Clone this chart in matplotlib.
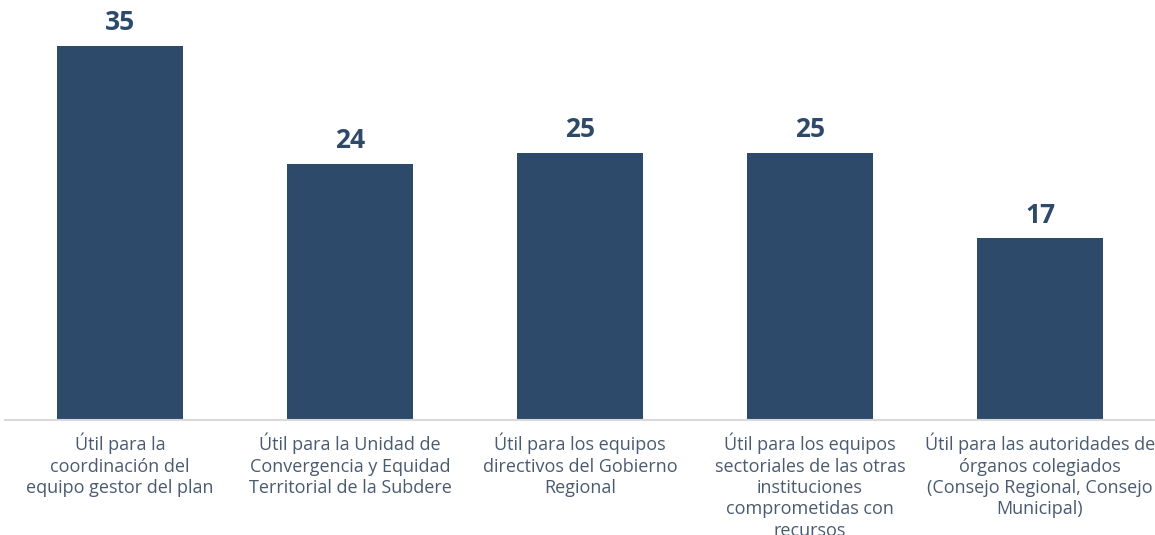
import matplotlib
matplotlib.use("Agg")
import matplotlib.pyplot as plt

categorias = [
    "Útil para la\ncoordinación del\nequipo gestor del plan",
    "Útil para la Unidad de\nConvergencia y Equidad\nTerritorial de la Subdere",
    "Útil para los equipos\ndirectivos del Gobierno\nRegional",
    "Útil para los equipos\nsectoriales de las otras\ninstituciones\ncomprometidas con\nrecursos",
    "Útil para las autoridades de\nórganos colegiados\n(Consejo Regional, Consejo\nMunicipal)",
]
valores = [35, 24, 25, 25, 17]

color_barra = "#2E4A6B"
color_texto = "#4A5A70"

plt.rcParams['font.family'] = ['Open Sans', 'DejaVu Sans']

fig = plt.figure(figsize=(11.55, 5.35), dpi=100)
ax = fig.add_axes([5 / 1155, 115 / 535, 1150 / 1155, 420 / 535])

x = range(len(valores))
barras = ax.bar(x, valores, width=0.55, color=color_barra, zorder=2)

for xi, v in zip(x, valores):
    ax.annotate(str(v), (xi, v), xytext=(0, 7), textcoords="offset points",
                ha="center", va="bottom", fontsize=19, fontweight="bold",
                color=color_barra)

ax.set_xlim(-0.5, 4.5)
ax.set_ylim(0, 39.3)
ax.set_xticks(list(x))
ax.set_xticklabels(categorias, fontsize=13, color=color_texto, linespacing=1.25)
ax.tick_params(axis="x", length=0, pad=9)
ax.set_yticks([])

for s in ["top", "right", "left"]:
    ax.spines[s].set_visible(False)
ax.spines["bottom"].set_color("#D9D9D9")
ax.spines["bottom"].set_linewidth(1.5)

fig.savefig("out.png", dpi=100)
